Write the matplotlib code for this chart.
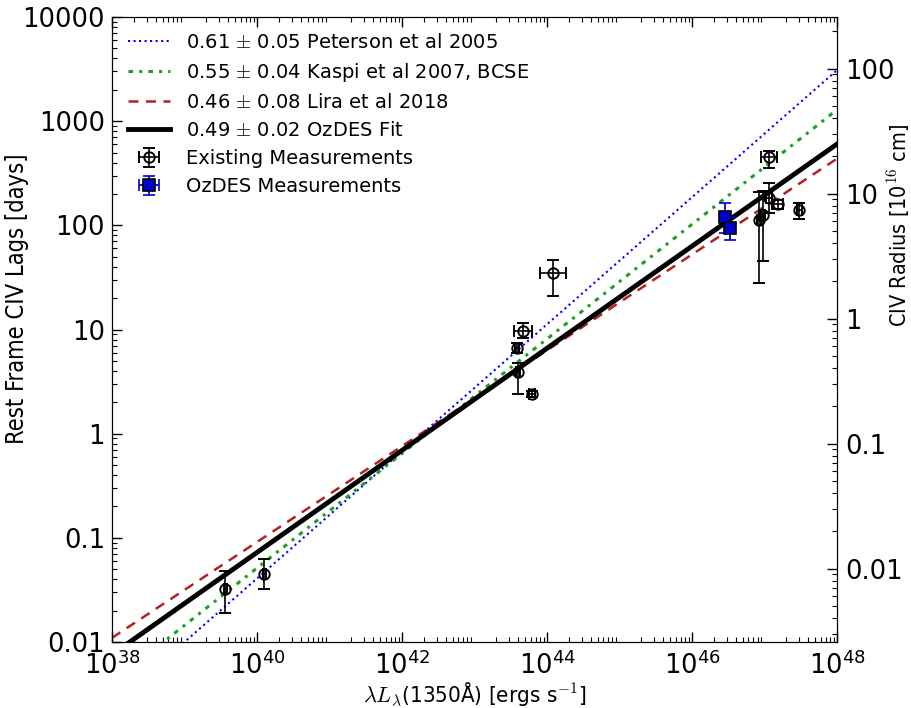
import numpy as np
import matplotlib
matplotlib.use("Agg")
import matplotlib.pyplot as plt
from matplotlib.ticker import FixedLocator, FuncFormatter, LogLocator, NullFormatter

plt.rcParams['mathtext.fontset'] = 'cm'
plt.rcParams['font.family'] = ['DejaVu Sans']

# ---------------- data ----------------
# Existing measurements (log10 luminosity, lag in days)
exist_logL = [39.56, 40.10, 43.59, 43.60, 43.665, 43.79, 44.08, 46.92, 46.975, 47.06, 47.06, 47.18, 47.48]
exist_logL_err = [0.02, 0.02, 0.03, 0.03, 0.125, 0.04, 0.175, 0.03, 0.03, 0.11, 0.04, 0.08, 0.03]
exist_lag = [0.032, 0.045, 6.6, 3.9, 9.7, 2.4, 35.0, 112.0, 125.0, 450.0, 182.0, 160.0, 139.0]
exist_lag_lo = [0.013, 0.013, 0.7, 1.5, 1.5, 0.15, 14.0, 84.0, 80.0, 93.0, 50.0, 15.0, 25.0]
exist_lag_hi = [0.016, 0.017, 0.8, 0.9, 1.8, 0.15, 11.0, 98.0, 88.0, 70.0, 71.0, 15.0, 26.0]

# OzDES measurements
oz_logL = [46.45, 46.52]
oz_logL_err = [0.03, 0.03]
oz_lag = [120.0, 94.0]
oz_lag_lo = [35.0, 22.0]
oz_lag_hi = [43.0, 26.0]

# R-L relations: log10(lag) at L = 1e44 and slope
fit_names = ["0.61 $\\pm$ 0.05 Peterson et al 2005",
             "0.55 $\\pm$ 0.04 Kaspi et al 2007, BCSE",
             "0.46 $\\pm$ 0.08 Lira et al 2018",
             "0.49 $\\pm$ 0.02 OzDES Fit"]
fit_logtau44 = [1.05, 0.91, 0.80, 0.82]
fit_slope = [0.61, 0.55, 0.46, 0.49]

left_ticks = [0.01, 0.1, 1, 10, 100, 1000, 10000]
right_ticks = [0.01, 0.1, 1, 10, 100]
x_ticks_exp = [38, 40, 42, 44, 46, 48]

# ---------------- figure ----------------
fig = plt.figure(figsize=(9.12, 7.08), dpi=100)
ax = fig.add_axes([0.1228, 0.0932, 0.795, 0.8828])

Lgrid = np.logspace(38, 48, 200)
styles = [dict(color='#0000ff', ls=':', lw=1.5),
          dict(color='#1f9e1f', dashes=(1.5, 2, 1, 2), lw=2.2),
          dict(color='#b22222', dashes=(4, 3), lw=1.8),
          dict(color='k', ls='-', lw=3.5)]
handles = []
for name, a, b, st in zip(fit_names, fit_logtau44, fit_slope, styles):
    h, = ax.plot(Lgrid, 10 ** (a + b * (np.log10(Lgrid) - 44)), label=name, **st)
    handles.append(h)

eL = np.array(exist_logL)
eLe = np.array(exist_logL_err)
xe = 10 ** eL
he = ax.errorbar(xe, exist_lag,
                 xerr=[xe - 10 ** (eL - eLe), 10 ** (eL + eLe) - xe],
                 yerr=[exist_lag_lo, exist_lag_hi],
                 fmt='o', mfc='none', mec='k', ms=7.5, mew=1.4,
                 ecolor='k', elinewidth=1.2, capsize=4, capthick=1.3,
                 label='Existing Measurements', zorder=5)

oL = np.array(oz_logL)
oLe = np.array(oz_logL_err)
xo = 10 ** oL
ho = ax.errorbar(xo, oz_lag,
                 xerr=[xo - 10 ** (oL - oLe), 10 ** (oL + oLe) - xo],
                 yerr=[oz_lag_lo, oz_lag_hi],
                 fmt='s', mfc='#0000cc', mec='k', ms=9, mew=1.2,
                 ecolor='#0000cc', elinewidth=1.3, capsize=4, capthick=1.3,
                 label='OzDES Measurements', zorder=6)

ax.set_xscale('log')
ax.set_yscale('log')
ax.set_xlim(1e38, 1e48)
ax.set_ylim(0.01, 10000)

ax.xaxis.set_major_locator(FixedLocator([10.0 ** e for e in x_ticks_exp]))
ax.xaxis.set_major_formatter(FuncFormatter(lambda v, p: r'$\mathdefault{10^{%d}}$' % round(np.log10(v))))
ax.xaxis.set_minor_locator(LogLocator(base=10, subs=np.arange(2, 10), numticks=100))
ax.xaxis.set_minor_formatter(NullFormatter())
ax.yaxis.set_major_locator(FixedLocator(left_ticks))
ax.yaxis.set_major_formatter(FuncFormatter(lambda v, p: '%g' % v))
ax.yaxis.set_minor_locator(LogLocator(base=10, subs=np.arange(2, 10), numticks=100))
ax.yaxis.set_minor_formatter(NullFormatter())

ax.tick_params(which='both', direction='in', top=True, right=False, labelsize=18.5)
ax.tick_params(which='major', length=7, width=1)
ax.tick_params(which='minor', length=3.5, width=0.8)
ax.tick_params(axis='x', pad=7)
ax.tick_params(axis='y', pad=5)

ax.set_ylabel('Rest Frame CIV Lags [days]', fontsize=17, family='DejaVu Sans',
              fontstretch='condensed')
ax.yaxis.set_label_coords(-0.114, 0.55)
ax.set_xlabel(r'$\lambda L_\lambda$(1350Å) [ergs s$^{-1}$]', fontsize=16,
              family='DejaVu Sans', fontstretch='condensed', labelpad=0)

ax2 = ax.twinx()
ax2.set_yscale('log')
ax2.set_ylim(0.00259, 259)
ax2.yaxis.set_major_locator(FixedLocator(right_ticks))
ax2.yaxis.set_major_formatter(FuncFormatter(lambda v, p: '%g' % v))
ax2.yaxis.set_minor_locator(LogLocator(base=10, subs=np.arange(2, 10), numticks=100))
ax2.yaxis.set_minor_formatter(NullFormatter())
ax2.tick_params(which='both', direction='in', labelsize=18.5, pad=6)
ax2.tick_params(which='major', length=7, width=1)
ax2.tick_params(which='minor', length=3.5, width=0.8)
ax2.set_ylabel(r'CIV Radius [10$^{16}$ cm]', fontsize=15.5, family='DejaVu Sans',
               fontstretch='condensed')
ax2.yaxis.set_label_coords(1.067, 0.667)

leg = ax.legend(handles=handles + [he, ho], loc='upper left', frameon=False,
                fontsize=14, handlelength=2.2, labelspacing=0.47,
                borderaxespad=0.4, handletextpad=0.8, borderpad=0.4)

fig.savefig('out.png', dpi=100)
